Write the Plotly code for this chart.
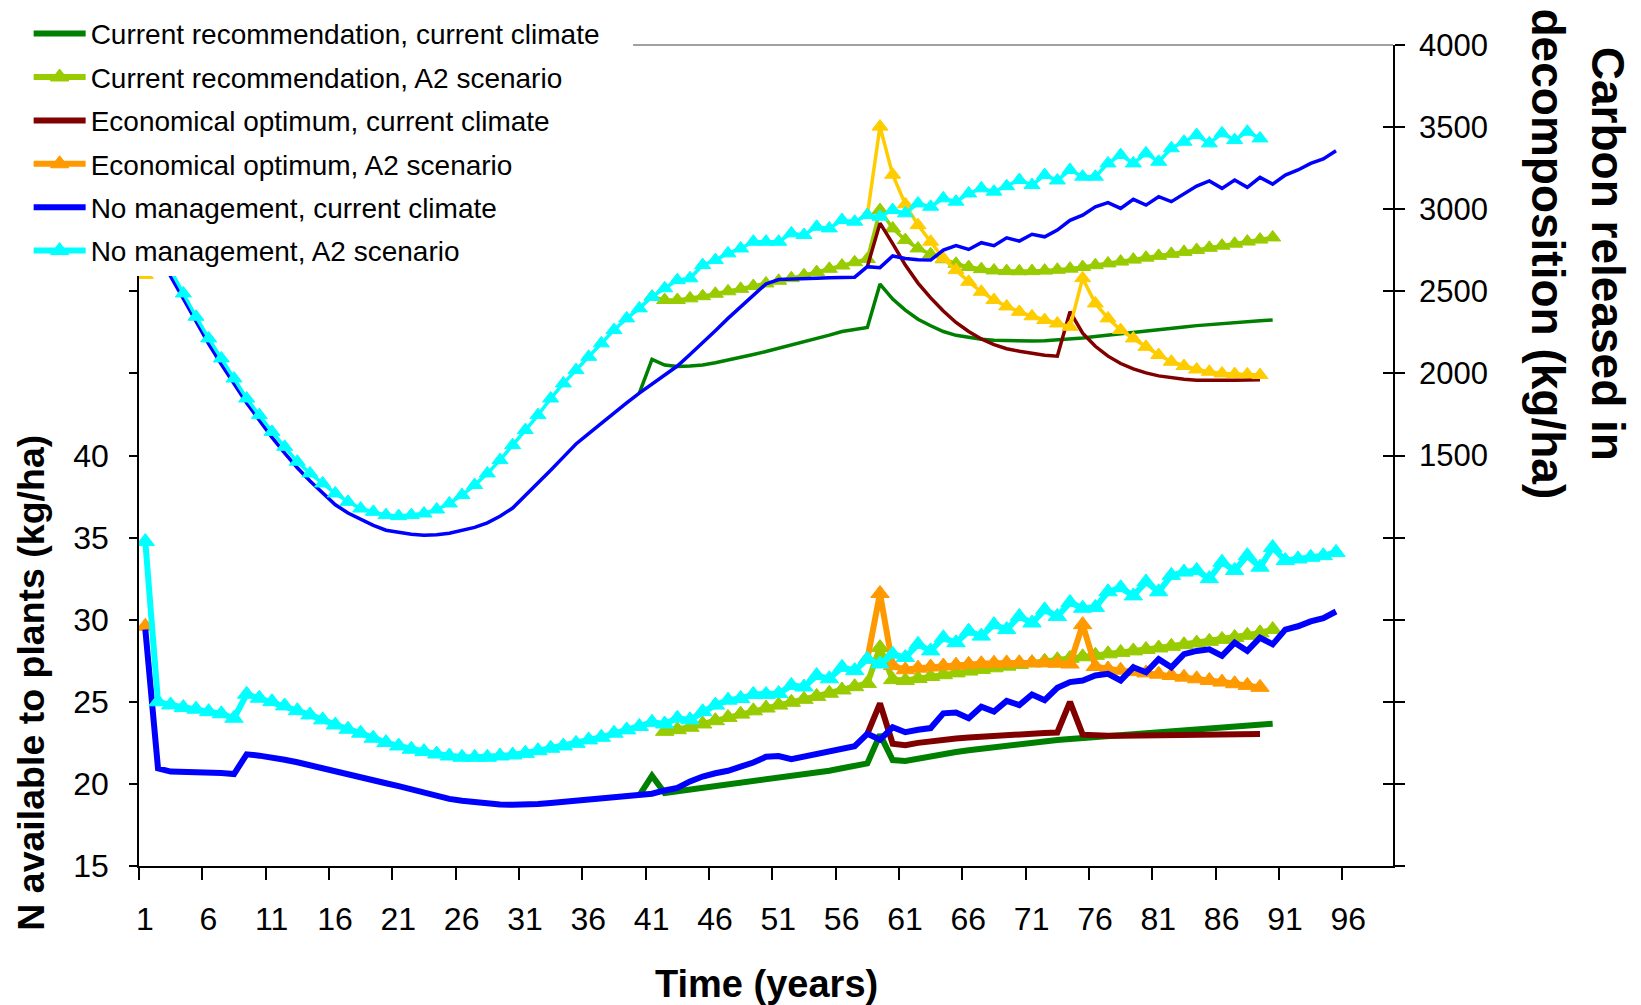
import plotly.graph_objects as go

N_CAT = 99
categories = list(range(1, N_CAT + 1))
x_tick_labels = [str(v) for v in range(1, 97, 5)]

legend_names = [
    "Current recommendation, current climate",
    "Current recommendation, A2 scenario",
    "Economical optimum, current climate",
    "Economical optimum, A2 scenario",
    "No management, current climate",
    "No management, A2 scenario",
]

# ---------------- N available to plants (kg/ha), left axis ----------------
n_nm_cur_start = 1
n_nm_cur = [29.4, 20.95, 20.75, 20.75, 20.75, 20.72, 20.66, 20.6, 21.8, 21.72,
            21.62, 21.47, 21.32, 21.15, 20.97, 20.79, 20.6, 20.42, 20.23, 20.04,
            19.86, 19.66, 19.47, 19.28, 19.09, 18.97, 18.87, 18.78, 18.75, 18.73,
            18.72, 18.77, 18.83, 18.9, 18.96, 19.0, 19.07, 19.14, 19.21, 19.3,
            19.4, 19.6, 19.75, 20.15, 20.45, 20.65, 20.8, 21.05, 21.3, 21.65,
            21.7, 21.5, 21.65, 21.8, 21.95, 22.1, 22.3, 23.05, 22.7, 23.45,
            23.15, 23.3, 23.4, 24.3, 24.35, 24.0, 24.7, 24.4, 25.05, 24.8,
            25.45, 25.1, 25.85, 26.2, 26.3, 26.6, 26.7, 26.3, 27.1, 26.8,
            27.6, 27.1, 27.9, 28.1, 28.2, 27.8, 28.6, 28.1, 28.9, 28.5,
            29.4, 29.6, 29.9, 30.1, 30.5]

n_nm_a2_start = 1
n_nm_a2 = [34.76, 25.0, 24.81, 24.65, 24.55, 24.4, 24.27, 24.0, 25.46, 25.22,
           25.01, 24.75, 24.46, 24.2, 23.9, 23.59, 23.33, 23.09, 22.78, 22.52,
           22.31, 22.11, 21.97, 21.82, 21.7, 21.62, 21.62, 21.62, 21.7, 21.76,
           21.86, 22.02, 22.17, 22.31, 22.47, 22.68, 22.84, 23.09, 23.29, 23.5,
           23.75, 23.65, 24.0, 23.9, 24.4, 24.8, 25.1, 25.2, 25.45, 25.45,
           25.5, 26.0, 25.9, 26.6, 26.4, 27.1, 26.9, 27.6, 27.3, 27.9,
           27.7, 28.5, 28.1, 28.9, 28.6, 29.3, 29.0, 29.7, 29.4, 30.2,
           29.8, 30.6, 30.2, 31.05, 30.7, 30.75, 31.7, 31.95, 31.45, 32.3,
           31.7, 32.7, 32.9, 33.0, 32.5, 33.5, 33.0, 33.9, 33.2, 34.4,
           33.6, 33.7, 33.8, 33.9, 34.1]

n_cr_cur_start = 40
n_cr_cur = [19.3, 20.5, 19.45, 19.55, 19.65, 19.75, 19.85, 19.95, 20.05, 20.15,
            20.25, 20.35, 20.45, 20.55, 20.65, 20.8, 20.95, 21.1, 21.25, 23.0,
            21.45, 21.4, 21.55, 21.7, 21.82, 21.94, 22.05, 22.15, 22.25, 22.35,
            22.45, 22.52, 22.6, 22.67, 22.74, 22.8, 22.86, 22.92, 22.98, 23.04,
            23.1, 23.16, 23.22, 23.28, 23.33, 23.38, 23.44, 23.5, 23.55, 23.6,
            23.66]

n_cr_a2_start = 42
n_cr_a2 = [23.2, 23.3, 23.45, 23.65, 23.85, 24.05, 24.25, 24.45, 24.62,
           24.8, 24.97, 25.15, 25.33, 25.52, 25.72, 25.92, 26.12, 28.3, 26.35,
           26.3, 26.42, 26.54, 26.65, 26.76, 26.87, 26.97, 27.07, 27.17, 27.27,
           27.37, 27.47, 27.56, 27.65, 27.74, 27.83, 27.92, 28.01, 28.1, 28.19,
           28.28, 28.38, 28.48, 28.58, 28.68, 28.8, 28.92, 29.05, 29.2, 29.4]

n_eo_cur_start = 58
n_eo_cur = [23.05, 24.9, 22.45, 22.35, 22.5, 22.62, 22.7, 22.77, 22.83, 22.89,
            22.94, 22.99, 23.03, 23.07, 23.1, 23.13, 25.0, 23.0, 22.93, 22.93,
            22.94, 22.95, 22.96, 22.97, 22.98, 22.99, 23.0, 23.0, 23.01, 23.02,
            23.03, 23.04]

n_eo_a2_year1 = 29.6
n_eo_a2_start = 58
n_eo_a2 = [27.6, 31.6, 27.2, 26.95, 27.05, 27.12, 27.18, 27.23, 27.28, 27.32,
           27.35, 27.37, 27.38, 27.38, 27.37, 27.35, 27.3, 29.7, 27.15, 27.0,
           26.92, 26.84, 26.76, 26.68, 26.6, 26.5, 26.4, 26.3, 26.2, 26.1,
           26.0, 25.88]

# ---------------- Carbon released in decomposition (kg/ha), right axis ----------------
c_nm_cur_start = 1
c_nm_cur = [2900, 2740, 2590, 2455, 2315, 2180, 2055, 1935, 1820, 1715,
            1610, 1515, 1425, 1345, 1270, 1200, 1150, 1110, 1075, 1045,
            1030, 1020, 1015, 1018, 1027, 1043, 1062, 1090, 1130, 1180,
            1255, 1330, 1410, 1490, 1570, 1633, 1697, 1762, 1820, 1880,
            1935, 1990, 2045, 2115, 2185, 2260, 2335, 2405, 2470, 2545,
            2572, 2576, 2578, 2580, 2582, 2584, 2586, 2650, 2644, 2715,
            2700, 2692, 2690, 2751, 2778, 2755, 2796, 2778, 2826, 2806,
            2847, 2832, 2873, 2932, 2964, 3015, 3040, 3005, 3060, 3025,
            3076, 3046, 3092, 3141, 3172, 3127, 3178, 3133, 3194, 3153,
            3208, 3239, 3279, 3306, 3356]

c_nm_a2_start = 1
c_nm_a2 = [2950, 2780, 2630, 2487, 2345, 2213, 2091, 1969, 1847, 1746,
           1644, 1553, 1462, 1391, 1330, 1269, 1218, 1177, 1157, 1137,
           1131, 1137, 1147, 1171, 1208, 1259, 1320, 1391, 1472, 1563,
           1655, 1746, 1847, 1939, 2020, 2101, 2183, 2264, 2335, 2396,
           2467, 2518, 2568, 2579, 2660, 2690, 2731, 2761, 2802, 2802,
           2802, 2853, 2843, 2893, 2883, 2934, 2924, 2964, 2954, 2995,
           2975, 3035, 3015, 3066, 3046, 3096, 3127, 3107, 3140, 3178,
           3147, 3208, 3175, 3239, 3198, 3198, 3279, 3330, 3279, 3340,
           3289, 3371, 3411, 3452, 3401, 3462, 3421, 3472, 3431]

c_cr_cur_start = 40
c_cr_cur = [1880, 2085, 2051, 2042, 2045, 2051, 2065, 2080, 2097, 2115,
            2133, 2152, 2172, 2192, 2212, 2233, 2255, 2268, 2280, 2544,
            2453, 2385, 2330, 2290, 2255, 2232, 2218, 2208, 2202, 2199,
            2197, 2197, 2199, 2203, 2208, 2215, 2225, 2234, 2243, 2251,
            2259, 2267, 2275, 2283, 2291, 2298, 2305, 2311, 2316, 2321,
            2325]

c_cr_a2_start = 41
c_cr_a2 = [2467, 2447, 2447, 2457, 2470, 2485, 2500, 2515, 2532, 2548,
           2564, 2580, 2598, 2617, 2637, 2657, 2677, 2697, 2995, 2883,
           2812, 2761, 2726, 2695, 2668, 2648, 2635, 2627, 2623, 2622,
           2623, 2626, 2631, 2638, 2648, 2659, 2670, 2681, 2693, 2705,
           2716, 2728, 2740, 2752, 2765, 2778, 2790, 2803, 2815, 2828]

c_eo_cur_start = 58
c_eo_cur = [2650, 2915, 2790, 2660, 2550, 2460, 2380, 2310, 2255, 2210,
            2175, 2150, 2135, 2120, 2110, 2105, 2376, 2245, 2165, 2105,
            2060, 2028, 2003, 1985, 1972, 1964, 1959, 1957, 1957, 1958,
            1960, 1962]

c_eo_a2_year1 = 2600
c_eo_a2_start = 58
c_eo_a2 = [2964, 3503, 3210, 3030, 2903, 2802, 2700, 2629, 2558, 2497,
           2447, 2408, 2375, 2348, 2325, 2304, 2284, 2580, 2426, 2335,
           2264, 2213, 2162, 2112, 2071, 2045, 2024, 2010, 2000, 1996,
           1994, 1990]

# colours
C_GREEN = "#008000"
C_YGREEN = "#99CC00"
C_DRED = "#800000"
C_ORANGE = "#FF9900"
C_GOLD = "#FFCC00"
C_BLUE = "#0000FF"
C_CYAN = "#00FFFF"

FONT = "Liberation Sans, Arial, sans-serif"


def full(start, values, year1=None):
    y = [None] * N_CAT
    for k, v in enumerate(values):
        y[start - 1 + k] = v
    if year1 is not None:
        y[0] = year1
    return y


fig = go.Figure()

# upper (carbon) series on right axis
upper = [
    (c_cr_cur_start, c_cr_cur, None, C_GREEN, False),
    (c_cr_a2_start, c_cr_a2, None, C_YGREEN, True),
    (c_eo_cur_start, c_eo_cur, None, C_DRED, False),
    (c_eo_a2_start, c_eo_a2, c_eo_a2_year1, C_GOLD, True),
    (c_nm_cur_start, c_nm_cur, None, C_BLUE, False),
    (c_nm_a2_start, c_nm_a2, None, C_CYAN, True),
]
for start, vals, y1, col, mk in upper:
    fig.add_trace(go.Scatter(
        x=categories, y=full(start, vals, y1), yaxis="y2",
        mode="lines+markers" if mk else "lines",
        line=dict(color=col, width=3.5),
        marker=dict(symbol="triangle-up", size=14, color=col, line=dict(width=1, color=col)),
        showlegend=False, connectgaps=False, hoverinfo="skip",
    ))

lower = [
    (n_cr_cur_start, n_cr_cur, None, C_GREEN, False),
    (n_cr_a2_start, n_cr_a2, None, C_YGREEN, True),
    (n_eo_cur_start, n_eo_cur, None, C_DRED, False),
    (n_eo_a2_start, n_eo_a2, n_eo_a2_year1, C_ORANGE, True),
    (n_nm_cur_start, n_nm_cur, None, C_BLUE, False),
    (n_nm_a2_start, n_nm_a2, None, C_CYAN, True),
]
for (start, vals, y1, col, mk), name in zip(lower, legend_names):
    fig.add_trace(go.Scatter(
        x=categories, y=full(start, vals, y1), yaxis="y",
        name=name, legendgroup=name,
        mode="lines+markers" if mk else "lines",
        line=dict(color=col, width=6),
        marker=dict(symbol="triangle-up", size=16, color=col, line=dict(width=1, color=col)),
        connectgaps=False, hoverinfo="skip",
    ))

left_vals = list(range(15, 70, 5))
left_text = [str(v) if v <= 40 else "" for v in left_vals]
right_vals = list(range(-1000, 4500, 500))
right_text = [str(v) if v >= 1500 else "" for v in right_vals]

fig.update_layout(
    width=1641, height=1005,
    margin=dict(l=139, r=248, t=45, b=139, autoexpand=False),
    paper_bgcolor="white", plot_bgcolor="white",
    font=dict(family=FONT, color="black"),
    xaxis=dict(
        range=[0.5, N_CAT + 0.5],
        tickvals=[0.5 + 5 * k for k in range(len(x_tick_labels))],
        ticktext=x_tick_labels,
        ticklabelshift=6, ticklabelstandoff=12,
        ticks="outside", ticklen=12, tickwidth=1.5, tickcolor="black",
        showline=True, linecolor="black", linewidth=1.5,
        showgrid=False, zeroline=False, automargin=False,
        tickfont=dict(size=32, family=FONT),
    ),
    yaxis=dict(
        range=[15, 65],
        tickvals=left_vals, ticktext=left_text,
        ticks="outside", ticklen=8, tickwidth=1.5, tickcolor="black",
        ticklabelstandoff=14,
        showline=True, linecolor="black", linewidth=1.5,
        showgrid=False, zeroline=False, automargin=False,
        tickfont=dict(size=32, family=FONT),
    ),
    yaxis2=dict(
        range=[-1000, 4000], overlaying="y", side="right", anchor="x",
        tickvals=right_vals, ticktext=right_text,
        ticks="outside", ticklen=10, tickwidth=1.5, tickcolor="black",
        ticklabelstandoff=8,
        showline=True, linecolor="black", linewidth=1.5,
        showgrid=False, zeroline=False, automargin=False,
        tickfont=dict(size=31, family=FONT),
    ),
    yaxis3=dict(
        range=[-1000, 4000], overlaying="y", side="right", anchor="x",
        tickvals=right_vals, showticklabels=False,
        ticks="inside", ticklen=10, tickwidth=1.5, tickcolor="black",
        showline=False, showgrid=False, zeroline=False, automargin=False,
    ),
    legend=dict(
        x=-0.088, y=1.044, xanchor="left", yanchor="top",
        bgcolor="white", borderwidth=0,
        font=dict(size=28, family=FONT),
        itemwidth=52, tracegroupgap=4,
        traceorder="grouped",
    ),
    shapes=[dict(type="line", xref="paper", yref="paper",
                 x0=0.394, x1=1, y0=1, y1=1,
                 line=dict(color="#808080", width=1.5))],
    annotations=[
        dict(text="<b>Time (years)</b>", xref="paper", yref="paper",
             x=0.5, y=-0.144, xanchor="center", yanchor="middle",
             showarrow=False, font=dict(size=38, family=FONT)),
        dict(text="<b>N available to plants (kg/ha)</b>", xref="paper", yref="paper",
             x=-0.0863, y=0.223, xanchor="center", yanchor="middle", textangle=-90,
             showarrow=False, font=dict(size=37.5, family=FONT)),
        dict(text="<b>Carbon released in<br>decomposition (kg/ha)</b>", xref="paper", yref="paper",
             x=1.1474, y=0.745, xanchor="center", yanchor="middle", textangle=90,
             showarrow=False, font=dict(size=46, family=FONT)),
    ],
)

# dummy trace to activate yaxis3 ticks
fig.add_trace(go.Scatter(x=[None], y=[None], yaxis="y3", showlegend=False, hoverinfo="skip"))

fig.write_html("out.html")
